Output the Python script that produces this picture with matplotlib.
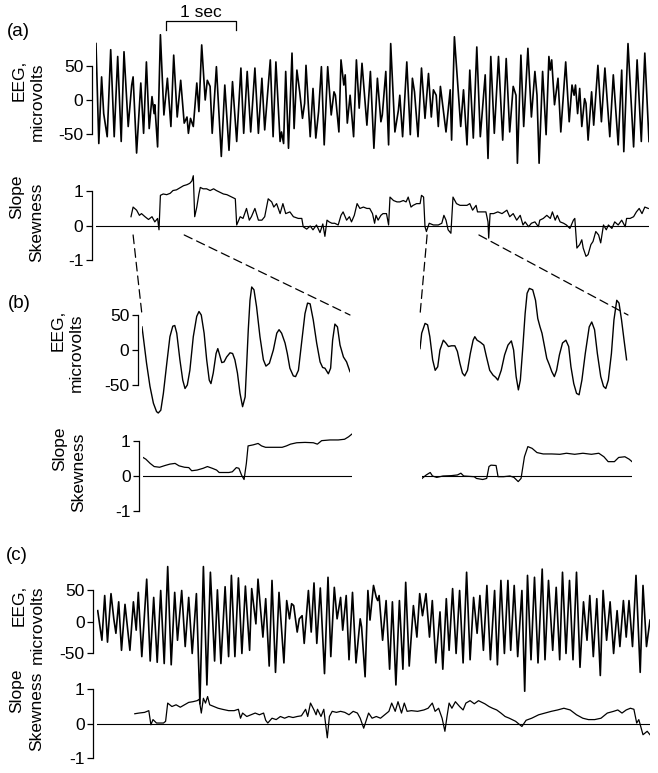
import matplotlib.pyplot as plt
from matplotlib.patches import ConnectionPatch
import matplotlib.transforms as mtransforms

# ---- data (time in s, EEG in microvolts) ----
eeg_a_t = [0.00, 0.04, 0.08, 0.11, 0.16, 0.21, 0.26, 0.31, 0.36, 0.40,
           0.46, 0.51, 0.53, 0.58, 0.64, 0.68, 0.72, 0.76, 0.80, 0.83,
           0.84, 0.88, 0.92, 0.97, 1.02, 1.07, 1.11, 1.16, 1.21, 1.26,
           1.30, 1.32, 1.35, 1.39, 1.44, 1.47, 1.51, 1.56, 1.59, 1.63,
           1.66, 1.72, 1.79, 1.84, 1.90, 1.95, 2.01, 2.07, 2.11, 2.16,
           2.21, 2.27, 2.32, 2.37, 2.41, 2.49,
           2.53, 2.57, 2.63, 2.65, 2.68, 2.71, 2.75, 2.80, 2.83, 2.87,
           2.91, 2.95, 2.98, 3.00, 3.06, 3.10, 3.14, 3.18, 3.22, 3.26,
           3.31, 3.36, 3.40, 3.42, 3.47, 3.50, 3.54, 3.56, 3.59, 3.63,
           3.68, 3.72, 3.76, 3.80, 3.87, 3.92, 3.97, 4.02, 4.07, 4.09,
           4.14, 4.18, 4.21, 4.27, 4.32, 4.34, 4.38, 4.44, 4.49, 4.52,
           4.55, 4.60, 4.65, 4.70, 4.75, 4.79, 4.82, 4.86, 4.89, 4.92,
           5.00, 5.06, 5.08, 5.12,
           5.21, 5.25, 5.30, 5.34, 5.39, 5.44, 5.49, 5.56, 5.60, 5.64,
           5.69, 5.75, 5.81, 5.86, 5.91, 5.96, 6.00, 6.02, 6.07, 6.11,
           6.17, 6.22, 6.27, 6.30, 6.33, 6.38, 6.43, 6.47, 6.49, 6.51,
           6.55, 6.60, 6.64, 6.71, 6.76, 6.80, 6.83, 6.85, 6.88, 6.91,
           6.94, 6.98, 7.00, 7.03, 7.08, 7.11, 7.17, 7.22, 7.27, 7.34,
           7.39, 7.46, 7.51, 7.54, 7.60, 7.68, 7.73, 7.79, 7.84, 7.90]
eeg_a_uv = [83, -64, 34, -20, -54, 74, -54, 64, -61, 71,
            -39, 22, 34, -78, 25, -49, 56, -42, 5, -20,
            -7, -69, 96, -22, 32, -39, 66, -25, 29, -34,
            -25, -49, -27, -39, 25, -17, 81, 0, 29, 20,
            -49, 49, -83, 22, -74, 27, -61, 47, -49, 42,
            -47, 47, -49, 32, -44, 59,
            -54, 56, -61, -47, -64, 42, -71, 69, -42, 44,
            12, -27, -5, 51, -54, 17, -56, -17, 49, -66,
            49, -22, 12, 7, -47, 59, 22, 37, -34, 7,
            -54, 59, -12, 54, -37, 42, -71, 32, -32, -22,
            42, -66, 83, -47, -15, 7, -54, 56, -51, 32,
            12, -54, 47, -27, 39, -25, 15, 7, -39, 20,
            -47, 15, -59, 93,
            -39, 15, -66, 44, -56, 78, -54, 37, -86, 64,
            -49, 64, -59, 61, -47, 20, 7, -93, 66, -39,
            76, -25, 42, 7, -93, 42, -51, 64, 44, 59,
            -7, 32, -47, 56, -32, 22, 7, 22, -20, 17,
            -39, 2, -5, -59, 12, -37, 51, -32, 47, -54,
            37, -66, 44, -76, 83, -69, 59, -61, 69, -61]

skew_a_t = [0.50, 0.53, 0.58, 0.62, 0.65, 0.70, 0.75, 0.80, 0.84, 0.88,
            0.90, 0.92, 0.96, 1.01, 1.06, 1.10, 1.15, 1.20, 1.25, 1.30,
            1.34, 1.37, 1.39, 1.41, 1.44, 1.47, 1.49, 1.53, 1.58, 1.63,
            1.68, 1.72, 1.77, 1.82, 1.87, 1.94, 1.99, 2.01, 2.06, 2.10,
            2.15, 2.19, 2.22, 2.27, 2.32, 2.37, 2.41, 2.46, 2.51, 2.54,
            2.58, 2.63, 2.67, 2.71, 2.77, 2.82, 2.89, 2.94, 2.96, 3.01,
            3.06, 3.10, 3.15, 3.20, 3.24, 3.27, 3.30, 3.33, 3.37, 3.41,
            3.46, 3.50, 3.53, 3.58, 3.62, 3.65, 3.69, 3.73, 3.77, 3.82,
            3.87, 3.91, 3.95, 3.98, 4.00, 4.03, 4.07, 4.10, 4.15, 4.18,
            4.20, 4.25, 4.30, 4.34, 4.39, 4.43, 4.46, 4.50, 4.53, 4.58,
            4.63, 4.65, 4.68, 4.70, 4.72, 4.76, 4.82, 4.89, 4.94, 4.97,
            5.00, 5.03, 5.07, 5.10, 5.15, 5.20, 5.25, 5.30, 5.34, 5.38,
            5.43, 5.45, 5.51, 5.57, 5.60, 5.61, 5.63, 5.68, 5.74, 5.80,
            5.87, 5.91, 5.96, 6.01, 6.06, 6.10, 6.13, 6.18, 6.22, 6.27,
            6.32, 6.34, 6.39, 6.44, 6.49, 6.52, 6.56, 6.59, 6.63, 6.68,
            6.72, 6.77, 6.82, 6.84, 6.87, 6.91, 6.94, 6.96, 7.00, 7.03,
            7.07, 7.10, 7.14, 7.18, 7.21, 7.25, 7.29, 7.32, 7.37, 7.41,
            7.46, 7.51, 7.56, 7.58, 7.63, 7.68, 7.72, 7.76, 7.80, 7.84,
            7.89]
skew_a_val = [0.26, 0.54, 0.45, 0.30, 0.35, 0.26, 0.18, 0.26, 0.11, 0.21,
              -0.12, 0.88, 0.92, 0.90, 0.94, 1.02, 1.04, 1.10, 1.16, 1.19,
              1.23, 1.30, 1.45, 0.26, 0.54, 0.92, 1.11, 1.07, 1.07, 1.02,
              1.07, 1.02, 0.97, 0.92, 0.90, 0.83, 0.78, 0.02, 0.26, 0.21,
              0.50, 0.16, 0.26, 0.50, 0.16, 0.16, 0.26, 0.78, 0.69, 0.54,
              0.64, 0.35, 0.64, 0.35, 0.40, 0.26, 0.21, 0.21, -0.03, -0.10,
              -0.01, -0.12, 0.02, -0.20, 0.05, -0.31, 0.16, 0.11, 0.07, 0.07,
              0.02, 0.30, 0.40, 0.16, 0.26, 0.11, 0.30, 0.64, 0.50, 0.54,
              0.50, 0.50, 0.35, 0.07, 0.30, 0.16, 0.30, 0.35, 0.35, 0.02,
              0.83, 0.73, 0.69, 0.69, 0.73, 0.69, 0.83, 0.54, 0.59, 0.64,
              0.64, 0.88, 0.83, -0.03, -0.17, 0.07, 0.02, 0.02, 0.07, 0.30,
              0.16, -0.12, -0.22, 0.83, 0.64, 0.59, 0.59, 0.59, 0.64, 0.45,
              0.59, 0.40, 0.40, 0.40, 0.11, -0.36, 0.35, 0.35, 0.40, 0.35,
              0.45, 0.26, 0.35, 0.16, 0.30, 0.02, 0.11, -0.03, 0.07, 0.11,
              -0.03, 0.16, 0.21, 0.30, 0.21, 0.40, 0.16, 0.30, 0.11, 0.07,
              0.02, -0.08, 0.16, 0.21, -0.65, -0.55, -0.41, -0.65, -0.89, -0.84,
              -0.55, -0.46, -0.17, -0.27, -0.50, 0.02, -0.12, 0.02, -0.08, 0.11,
              0.02, 0.16, -0.03, 0.21, 0.21, 0.26, 0.40, 0.50, 0.35, 0.54,
              0.50]

# expanded windows shown in (b)
seg1 = (0.53, 1.26)
seg2 = (4.73, 5.47)

eeg_b1_t = [0.530, 0.535, 0.546, 0.558, 0.570, 0.581, 0.587, 0.596, 0.605, 0.617,
            0.628, 0.638, 0.645, 0.652, 0.663, 0.673, 0.681, 0.689, 0.698, 0.710,
            0.722, 0.730, 0.738, 0.748, 0.757, 0.766, 0.772, 0.780, 0.790, 0.796,
            0.801, 0.810, 0.818, 0.827, 0.839, 0.848, 0.856, 0.865, 0.874, 0.883,
            0.892, 0.897, 0.903, 0.909, 0.915, 0.923, 0.932, 0.944, 0.956, 0.965,
            0.977, 0.991, 1.003, 1.011, 1.020, 1.032, 1.040, 1.049, 1.061, 1.069,
            1.079, 1.090, 1.102, 1.111, 1.120, 1.131, 1.143, 1.155, 1.164, 1.172,
            1.184, 1.192, 1.199, 1.207, 1.216, 1.225, 1.237, 1.248, 1.260]
eeg_b1_uv = [33, 17, -19, -52, -76, -88, -90, -86, -62, -19,
             19, 34, 35, 24, -14, -43, -55, -50, -29, 19,
             48, 55, 50, 24, -14, -43, -48, -33, -5, 2,
             -5, -18, -17, -10, -4, -5, -14, -33, -62, -81,
             -67, -24, 29, 71, 90, 86, 62, 19, -14, -23,
             -19, 0, 24, 29, 24, 10, -5, -26, -37, -38,
             -29, 10, 52, 67, 66, 43, 10, -17, -25, -26,
             -34, -26, 14, 37, 33, 7, -10, -17, -31]

eeg_b2_t = [4.730, 4.736, 4.748, 4.757, 4.765, 4.775, 4.784, 4.793, 4.801, 4.813,
            4.822, 4.831, 4.842, 4.854, 4.863, 4.872, 4.881, 4.889, 4.899, 4.909,
            4.919, 4.925, 4.933, 4.945, 4.957, 4.966, 4.978, 4.990, 4.999, 5.007,
            5.019, 5.031, 5.043, 5.055, 5.063, 5.072, 5.080, 5.087, 5.096, 5.104,
            5.111, 5.119, 5.131, 5.141, 5.149, 5.157, 5.164, 5.173, 5.181, 5.190,
            5.199, 5.208, 5.216, 5.226, 5.237, 5.249, 5.259, 5.267, 5.277, 5.287,
            5.296, 5.306, 5.318, 5.332, 5.341, 5.351, 5.361, 5.373, 5.383, 5.391,
            5.400, 5.411, 5.420, 5.430, 5.438, 5.447, 5.456, 5.465]
eeg_b2_uv = [2, 24, 38, 36, 19, -14, -29, -24, 0, 14,
             10, 5, 6, 6, -2, -19, -33, -37, -29, -5,
             14, 19, 14, 11, 7, -9, -29, -36, -39, -43,
             -29, -7, 7, 13, 0, -38, -57, -43, 5, 52,
             81, 88, 86, 71, 45, 33, 24, 5, -12, -21,
             -31, -38, -29, -7, 10, 14, 5, -24, -48, -62,
             -64, -43, -5, 33, 40, 29, -5, -38, -52, -55,
             -43, -5, 43, 71, 67, 43, 14, -14]

skew_b1_t = [0.530, 0.540, 0.555, 0.569, 0.588, 0.607, 0.624, 0.642, 0.656, 0.675,
             0.690, 0.700, 0.719, 0.740, 0.755, 0.772, 0.787, 0.796, 0.813, 0.830,
             0.842, 0.856, 0.865, 0.874, 0.883, 0.891, 0.897, 0.915, 0.932, 0.944,
             0.958, 0.987, 1.016, 1.031, 1.045, 1.067, 1.096, 1.125, 1.139, 1.154,
             1.183, 1.212, 1.234, 1.248, 1.260]
skew_b1_val = [0.53, 0.48, 0.36, 0.27, 0.25, 0.30, 0.34, 0.36, 0.29, 0.25,
               0.24, 0.15, 0.17, 0.22, 0.27, 0.22, 0.17, 0.10, 0.10, 0.10,
               0.12, 0.24, 0.22, 0.03, -0.10, 0.36, 0.86, 0.89, 0.93, 0.86,
               0.82, 0.82, 0.82, 0.86, 0.91, 0.95, 0.96, 0.95, 0.91, 1.01,
               1.03, 1.03, 1.05, 1.12, 1.20]

skew_b2_t = [4.730, 4.745, 4.759, 4.767, 4.782, 4.804, 4.833, 4.855, 4.867, 4.877,
             4.914, 4.922, 4.944, 4.958, 4.966, 4.973, 4.991, 4.998, 5.017, 5.040,
             5.054, 5.069, 5.079, 5.091, 5.103, 5.118, 5.135, 5.157, 5.187, 5.216,
             5.239, 5.268, 5.297, 5.327, 5.353, 5.371, 5.386, 5.408, 5.423, 5.445,
             5.460, 5.470]
skew_b2_val = [-0.07, 0.03, 0.10, 0.00, -0.04, 0.00, 0.01, 0.03, 0.08, 0.00,
               -0.02, -0.07, -0.10, -0.07, 0.27, 0.31, 0.30, -0.02, -0.02, 0.00,
               -0.04, -0.16, -0.07, 0.55, 0.84, 0.79, 0.67, 0.63, 0.63, 0.62,
               0.65, 0.62, 0.65, 0.62, 0.65, 0.55, 0.41, 0.41, 0.53, 0.55,
               0.48, 0.41]

eeg_c_t = [0.01, 0.07, 0.11, 0.15, 0.20, 0.24, 0.27, 0.31, 0.35, 0.40,
           0.47, 0.52, 0.56, 0.59, 0.64, 0.71, 0.76, 0.81, 0.86, 0.91,
           0.96, 1.01, 1.06, 1.11, 1.15, 1.21, 1.26, 1.31, 1.36, 1.42,
           1.47, 1.52, 1.57, 1.62, 1.68, 1.72, 1.77, 1.83, 1.88, 1.92,
           1.97, 2.02, 2.07, 2.12, 2.18, 2.21, 2.27, 2.30, 2.37, 2.41,
           2.46, 2.50, 2.55, 2.60, 2.67, 2.71, 2.75, 2.78, 2.81, 2.86,
           2.89, 2.93, 2.96, 3.02, 3.06, 3.10, 3.14, 3.19, 3.25, 3.30,
           3.34, 3.39, 3.43, 3.48, 3.51, 3.56, 3.60, 3.65, 3.70, 3.76,
           3.78, 3.83, 3.87, 3.90, 3.95, 3.99, 4.01, 4.03, 4.08, 4.13,
           4.18, 4.22, 4.27, 4.32, 4.37, 4.41, 4.46, 4.52, 4.57, 4.61,
           4.65, 4.70, 4.75, 4.79, 4.84, 4.90, 4.94, 4.99, 5.03, 5.08,
           5.13, 5.18, 5.23, 5.28, 5.33, 5.38, 5.43, 5.47, 5.52, 5.57,
           5.62, 5.68, 5.72, 5.77, 5.82, 5.87, 5.91, 5.96, 6.01, 6.07,
           6.11, 6.15, 6.20, 6.25, 6.30, 6.36, 6.40, 6.45, 6.51, 6.56,
           6.61, 6.65, 6.70, 6.75, 6.80, 6.85, 6.90, 6.95, 7.00, 7.04,
           7.09, 7.14, 7.19, 7.23, 7.28, 7.33, 7.38, 7.43, 7.47, 7.52,
           7.56, 7.60, 7.65, 7.70, 7.76, 7.80, 7.85, 7.90]
eeg_c_uv = [18, -29, 42, -32, 45, 5, -18, 32, -45, 28,
            -45, 32, -13, 47, -55, 68, -62, 39, -64, 50,
            -66, 88, -68, 47, -29, 50, -39, 39, -50, 45,
            -130, 88, -100, 79, -62, 51, -66, 56, -55, 74,
            -55, 70, -50, 57, -45, 53, -3, 68, -24, 37,
            -70, 66, -80, 47, -65, 34, 5, 29, 26, -16,
            5, 10, -34, 50, -16, 62, -34, 54, -82, 71,
            -55, 55, 5, 39, -13, 42, -60, 47, -65, 5,
            -8, -87, 50, 3, 58, 39, 34, 42, -29, 34,
            -75, 32, -100, 34, -75, 63, -70, 26, -24, 45,
            10, 45, -24, 34, -65, 16, -75, 37, -45, 53,
            -50, 50, -65, 79, -60, 39, -18, 42, -45, 58,
            -60, 50, -68, 66, -50, 66, -45, 58, -55, 50,
            -110, 74, -60, 71, -65, 84, -60, 66, -45, 55,
            -60, 79, -50, 66, -60, 79, -72, 32, -29, 42,
            -55, 37, -85, 50, -29, 32, -50, 18, -39, 34,
            -24, 34, -39, 74, -80, 58, -39, 3]

skew_c_t = [0.54, 0.60, 0.68, 0.74, 0.77, 0.80, 0.85, 0.95, 0.98, 1.01,
            1.07, 1.13, 1.19, 1.25, 1.31, 1.37, 1.43, 1.46, 1.49, 1.52,
            1.55, 1.58, 1.61, 1.67, 1.73, 1.79, 1.88, 1.96, 2.02, 2.05,
            2.08, 2.14, 2.20, 2.26, 2.32, 2.38, 2.41, 2.44, 2.50, 2.56,
            2.62, 2.68, 2.74, 2.80, 2.86, 2.92, 2.98, 3.01, 3.05, 3.10,
            3.13, 3.15, 3.20, 3.24, 3.29, 3.32, 3.36, 3.42, 3.48, 3.54,
            3.60, 3.66, 3.72, 3.76, 3.81, 3.85, 3.88, 3.93, 3.99, 4.05,
            4.11, 4.17, 4.21, 4.26, 4.30, 4.35, 4.39, 4.43, 4.49, 4.58,
            4.67, 4.73, 4.79, 4.83, 4.88, 4.93, 4.97, 5.00, 5.03, 5.07,
            5.12, 5.18, 5.23, 5.27, 5.33, 5.39, 5.45, 5.54, 5.60, 5.65,
            5.71, 5.77, 5.83, 5.89, 5.98, 6.07, 6.13, 6.21, 6.31, 6.40,
            6.49, 6.58, 6.67, 6.76, 6.85, 6.94, 7.02, 7.11, 7.20, 7.29,
            7.38, 7.44, 7.50, 7.56, 7.62, 7.67, 7.71, 7.74, 7.80, 7.86,
            7.92]
skew_c_val = [0.29, 0.31, 0.33, 0.38, -0.03, 0.12, 0.02, 0.02, 0.07, 0.60,
              0.50, 0.55, 0.48, 0.55, 0.62, 0.64, 0.67, 0.71, 0.31, 0.74,
              0.60, 0.79, 0.55, 0.50, 0.45, 0.42, 0.38, 0.38, 0.42, 0.16,
              0.31, 0.21, 0.26, 0.31, 0.26, 0.31, 0.10, 0.02, 0.16, 0.12,
              0.21, 0.16, 0.21, 0.18, 0.21, 0.23, 0.42, 0.21, 0.60, 0.40,
              0.26, 0.42, 0.21, 0.42, -0.41, 0.21, 0.36, 0.33, 0.36, 0.33,
              0.26, 0.36, 0.31, 0.16, -0.13, 0.12, 0.31, 0.16, 0.21, 0.16,
              0.26, 0.36, 0.60, 0.36, 0.64, 0.31, 0.60, 0.36, 0.38, 0.36,
              0.40, 0.45, 0.60, 0.36, 0.45, 0.16, -0.22, 0.21, 0.60, 0.45,
              0.64, 0.50, 0.40, 0.60, 0.67, 0.58, 0.67, 0.58, 0.50, 0.45,
              0.40, 0.31, 0.21, 0.16, 0.07, -0.08, 0.10, 0.16, 0.26, 0.31,
              0.36, 0.40, 0.45, 0.40, 0.26, 0.16, 0.12, 0.12, 0.16, 0.31,
              0.36, 0.40, 0.31, 0.40, 0.45, 0.42, 0.02, 0.12, -0.32, -0.22,
              -0.37]

scale_bar_start = 1.0   # s
scale_bar_len = 1.0     # s

# ---- figure ----
plt.rcParams['font.family'] = ['Liberation Sans', 'DejaVu Sans']
W, H = 658, 773
fig = plt.figure(figsize=(W / 100, H / 100), dpi=100)
fig.patch.set_facecolor('white')


def px_axes(left, top, right, bottom):
    return fig.add_axes([left / W, 1 - bottom / H, (right - left) / W, (bottom - top) / H])


def fig_text(x, y, s, **kw):
    kw.setdefault('fontsize', 12.5)
    fig.text(x / W, 1 - y / H, s, ha='center', va='center', **kw)


def style(ax, kind, show_axis=True):
    ax.patch.set_visible(False)
    for side in ['top', 'right', 'bottom']:
        ax.spines[side].set_visible(False)
    ax.set_xticks([])
    if not show_axis:
        ax.spines['left'].set_visible(False)
        ax.set_yticks([])
        return
    if kind == 'eeg':
        ax.spines['left'].set_bounds(-50, 50)
        ax.set_yticks([-50, 0, 50])
        ax.set_yticklabels(['-50', '0', '50'])
    else:
        ax.spines['left'].set_bounds(-1, 1)
        ax.set_yticks([-1, 0, 1])
        ax.set_yticklabels(['-1', '0', '1'])
    ax.spines['left'].set_position(('outward', 3))
    ax.spines['left'].set_linewidth(0.9)
    ax.tick_params(axis='y', length=4, width=0.9, pad=2, labelsize=12.5)


# (a)
ax_a = px_axes(96, 32, 649, 168)
ax_a.plot(eeg_a_t, eeg_a_uv, color='k', lw=1.2)
ax_a.set_xlim(0, 7.9)
ax_a.set_ylim(-100, 100)
style(ax_a, 'eeg')

blend = mtransforms.blended_transform_factory(ax_a.transData, ax_a.transAxes)
x0, x1 = scale_bar_start, scale_bar_start + scale_bar_len
ax_a.plot([x0, x0, x1, x1], [1.015, 1.081, 1.081, 1.015], color='k', lw=0.9,
          transform=blend, clip_on=False)
ax_a.text((x0 + x1) / 2, 1.147, '1 sec', transform=blend, ha='center', va='center',
          fontsize=12.5)

ax_as = px_axes(96, 174, 649, 267)
ax_as.plot(skew_a_t, skew_a_val, color='k', lw=0.9)
ax_as.axhline(0, color='k', lw=0.8)
ax_as.set_xlim(0, 7.9)
ax_as.set_ylim(-1.2, 1.5)
style(ax_as, 'skew')

# (b)
ax_b1 = px_axes(142, 280, 350, 420)
ax_b1.plot(eeg_b1_t, eeg_b1_uv, color='k', lw=1.0)
ax_b1.set_xlim(*seg1)
ax_b1.set_ylim(-100, 100)
style(ax_b1, 'eeg')

ax_b2 = px_axes(420, 280, 628, 420)
ax_b2.plot(eeg_b2_t, eeg_b2_uv, color='k', lw=1.0)
ax_b2.set_xlim(*seg2)
ax_b2.set_ylim(-100, 100)
style(ax_b2, 'eeg', show_axis=False)

ax_b1s = px_axes(143, 427, 352, 518)
ax_b1s.plot(skew_b1_t, skew_b1_val, color='k', lw=0.9)
ax_b1s.axhline(0, color='k', lw=0.8)
ax_b1s.set_xlim(*seg1)
ax_b1s.set_ylim(-1.2, 1.4)
style(ax_b1s, 'skew')

ax_b2s = px_axes(422, 427, 632, 518)
ax_b2s.plot(skew_b2_t, skew_b2_val, color='k', lw=0.9)
ax_b2s.axhline(0, color='k', lw=0.8)
ax_b2s.set_xlim(*seg2)
ax_b2s.set_ylim(-1.2, 1.4)
style(ax_b2s, 'skew', show_axis=False)

# dashed connectors from (a) to the expanded windows in (b)
for seg, axb in [(seg1, ax_b1), (seg2, ax_b2)]:
    for t in seg:
        con = ConnectionPatch(xyA=(t, -0.27), coordsA=ax_as.transData,
                              xyB=(t, 50), coordsB=axb.transData,
                              color='k', lw=0.9, linestyle=(0, (7, 4)))
        fig.add_artist(con)

# (c)
ax_c = px_axes(97, 559, 650, 707)
ax_c.plot(eeg_c_t, eeg_c_uv, color='k', lw=1.2)
ax_c.set_xlim(0, 7.9)
ax_c.set_ylim(-135, 100)
style(ax_c, 'eeg')

ax_cs = px_axes(97, 679, 650, 765)
ax_cs.plot(skew_c_t, skew_c_val, color='k', lw=0.9)
ax_cs.axhline(0, color='k', lw=0.8)
ax_cs.set_xlim(0, 7.9)
ax_cs.set_ylim(-1.2, 1.3)
style(ax_cs, 'skew')

# labels
fig_text(18, 31, '(a)', fontsize=13.5)
fig_text(19, 304, '(b)', fontsize=13.5)
fig_text(17, 556, '(c)', fontsize=13.5)

fig_text(19, 80, 'EEG,', rotation=90)
fig_text(37, 102, 'microvolts', rotation=90)
fig_text(17, 197, 'Slope', rotation=90)
fig_text(37, 222, 'Skewness', rotation=90)

fig_text(58, 330, 'EEG,', rotation=90)
fig_text(76, 353, 'microvolts', rotation=90)
fig_text(60, 449, 'Slope', rotation=90)
fig_text(79, 472, 'Skewness', rotation=90)

fig_text(19, 605, 'EEG,', rotation=90)
fig_text(37, 625, 'microvolts', rotation=90)
fig_text(17, 691, 'Slope', rotation=90)
fig_text(37, 711, 'Skewness', rotation=90)

fig.savefig('out.png', dpi=100, facecolor='white')
